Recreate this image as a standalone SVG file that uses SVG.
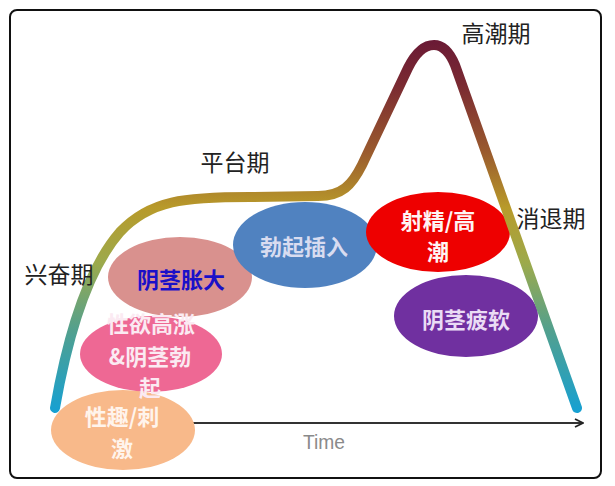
<svg xmlns="http://www.w3.org/2000/svg" width="615" height="486" viewBox="0 0 615 486">
<defs>
  <linearGradient id="curveGrad" gradientUnits="userSpaceOnUse" x1="0" y1="40" x2="0" y2="412">
    <stop offset="0" stop-color="#6A1A35"/>
    <stop offset="0.12" stop-color="#7A2A32"/>
    <stop offset="0.3" stop-color="#9A5A2E"/>
    <stop offset="0.45" stop-color="#B89A2A"/>
    <stop offset="0.6" stop-color="#9CAA4C"/>
    <stop offset="0.78" stop-color="#52A08E"/>
    <stop offset="1" stop-color="#16A0D2"/>
  </linearGradient>
  <marker id="arrow" viewBox="0 0 10 10" refX="9" refY="5" markerWidth="10" markerHeight="10" markerUnits="userSpaceOnUse" orient="auto">
    <path d="M1,1 L9,5 L1,9" fill="none" stroke="#222" stroke-width="1.8"/>
  </marker>
</defs>
<style>
  .phase { font-family: "Noto Sans CJK SC", "Noto Sans", sans-serif; font-size: 23px; fill: #222; text-anchor: middle; }
  .lbl { font-family: "Noto Sans CJK SC", "Noto Sans", sans-serif; font-size: 22px; font-weight: bold; text-anchor: middle; dominant-baseline: central; }
  .axis { font-family: "Liberation Sans", Arial, sans-serif; font-size: 20px; fill: #8a8a8a; text-anchor: middle; dominant-baseline: central; }
</style>
<rect x="0" y="0" width="615" height="486" fill="#ffffff"/>
<rect x="10" y="10" width="591" height="468" rx="7" fill="#ffffff" stroke="#111" stroke-width="2"/>

<g id="connectors">
  <line x1="192" y1="423" x2="583" y2="423" stroke="#333" stroke-width="2" marker-end="url(#arrow)"/>
</g>

<g id="n-xingqu">
  <ellipse cx="123" cy="430" rx="72" ry="40" fill="#F8B98A"/>
</g>
<g id="n-xingyu">
  <ellipse cx="151" cy="354" rx="71" ry="38" fill="#EE6894"/>
</g>
<g id="n-zhangda">
  <ellipse cx="180" cy="277" rx="72" ry="40" fill="#D9918E"/>
  <text class="lbl" x="181" y="278" fill="#1A10C8">阴茎胀大</text>
</g>
<g id="n-charu">
  <ellipse cx="305" cy="245" rx="72" ry="43" fill="#5082C0"/>
  <text class="lbl" x="304" y="245" fill="#D8DCF0">勃起插入</text>
</g>
<g id="n-shejing">
  <ellipse cx="438" cy="232" rx="72" ry="40" fill="#EE0000"/>
  <text class="lbl" x="438" y="219" fill="#FFF4F4">射精/高</text>
  <text class="lbl" x="438" y="250" fill="#FFF4F4">潮</text>
</g>
<g id="n-piruan">
  <ellipse cx="466" cy="316" rx="72" ry="41" fill="#7030A0"/>
  <text class="lbl" x="466" y="318" fill="#EADCF5">阴茎疲软</text>
</g>

<g id="texts-overlay">
  <text class="lbl" x="151" y="322" fill="#FBEAF2">性欲高涨</text>
  <text class="lbl" x="150" y="355" fill="#FBEAF2">&amp;阴茎勃</text>
  <text class="lbl" x="150" y="386" fill="#FBEAF2">起</text>
  <text class="lbl" x="122" y="415" fill="#FFF4EC">性趣/刺</text>
  <text class="lbl" x="122" y="447" fill="#FFF4EC">激</text>
</g>

<g id="curve">
  <path d="M55,408 C66,345 85,272 120,232 C150,200 185,197 250,197 L318,196 C342,196 352,185 362,165 L408,68 C416,52 424,45 434,45 C444,45 450,53 455,65 L577,408" fill="none" stroke="url(#curveGrad)" stroke-width="10" stroke-linecap="round" stroke-linejoin="round"/>
</g>

<g id="phases">
  <text class="phase" x="496" y="42">高潮期</text>
  <text class="phase" x="235" y="171">平台期</text>
  <text class="phase" x="59" y="283">兴奋期</text>
  <text class="phase" x="551" y="227">消退期</text>
  <text class="axis" x="324" y="442" textLength="42" lengthAdjust="spacingAndGlyphs">Time</text>
</g>
</svg>
